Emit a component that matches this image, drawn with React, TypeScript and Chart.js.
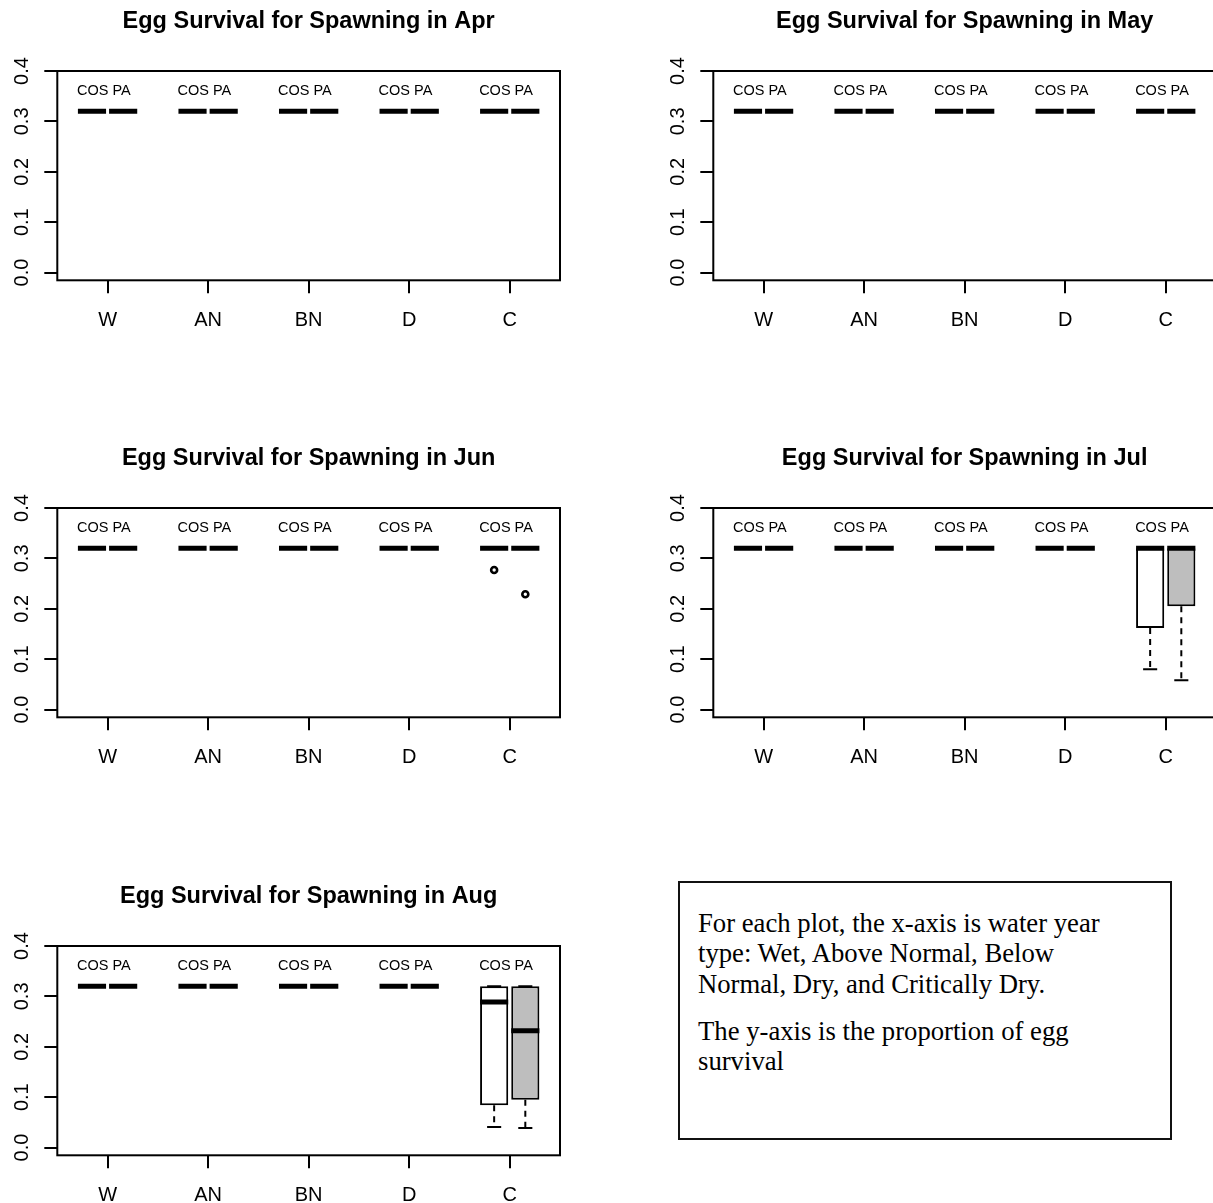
import React, { useEffect, useRef } from 'react';
import { Chart, registerables } from 'chart.js';

Chart.register(...registerables);

// ---------------- data ----------------
const CATEGORIES = ['W', 'AN', 'BN', 'D', 'C'];
const MONTHS = ['Apr', 'May', 'Jun', 'Jul', 'Aug'];
const SERIES = ['COS', 'PA'];
const Y_TICKS = [0, 0.1, 0.2, 0.3, 0.4];

// rows: months Apr..Aug, columns: categories W..C
const COS_MEDIAN = [
  [0.32, 0.32, 0.32, 0.32, 0.32],
  [0.32, 0.32, 0.32, 0.32, 0.32],
  [0.32, 0.32, 0.32, 0.32, 0.32],
  [0.32, 0.32, 0.32, 0.32, 0.32],
  [0.32, 0.32, 0.32, 0.32, 0.289],
];
const COS_Q1 = [
  [0.32, 0.32, 0.32, 0.32, 0.32],
  [0.32, 0.32, 0.32, 0.32, 0.32],
  [0.32, 0.32, 0.32, 0.32, 0.32],
  [0.32, 0.32, 0.32, 0.32, 0.162],
  [0.32, 0.32, 0.32, 0.32, 0.084],
];
const COS_Q3 = [
  [0.32, 0.32, 0.32, 0.32, 0.32],
  [0.32, 0.32, 0.32, 0.32, 0.32],
  [0.32, 0.32, 0.32, 0.32, 0.32],
  [0.32, 0.32, 0.32, 0.32, 0.32],
  [0.32, 0.32, 0.32, 0.32, 0.32],
];
const COS_LOW = [
  [0.32, 0.32, 0.32, 0.32, 0.32],
  [0.32, 0.32, 0.32, 0.32, 0.32],
  [0.32, 0.32, 0.32, 0.32, 0.32],
  [0.32, 0.32, 0.32, 0.32, 0.08],
  [0.32, 0.32, 0.32, 0.32, 0.041],
];
const COS_HIGH = [
  [0.32, 0.32, 0.32, 0.32, 0.32],
  [0.32, 0.32, 0.32, 0.32, 0.32],
  [0.32, 0.32, 0.32, 0.32, 0.32],
  [0.32, 0.32, 0.32, 0.32, 0.32],
  [0.32, 0.32, 0.32, 0.32, 0.32],
];
const COS_OUTLIER = [
  [null, null, null, null, null],
  [null, null, null, null, null],
  [null, null, null, null, 0.277],
  [null, null, null, null, null],
  [null, null, null, null, null],
];

const PA_MEDIAN = [
  [0.32, 0.32, 0.32, 0.32, 0.32],
  [0.32, 0.32, 0.32, 0.32, 0.32],
  [0.32, 0.32, 0.32, 0.32, 0.32],
  [0.32, 0.32, 0.32, 0.32, 0.32],
  [0.32, 0.32, 0.32, 0.32, 0.232],
];
const PA_Q1 = [
  [0.32, 0.32, 0.32, 0.32, 0.32],
  [0.32, 0.32, 0.32, 0.32, 0.32],
  [0.32, 0.32, 0.32, 0.32, 0.32],
  [0.32, 0.32, 0.32, 0.32, 0.205],
  [0.32, 0.32, 0.32, 0.32, 0.095],
];
const PA_Q3 = [
  [0.32, 0.32, 0.32, 0.32, 0.32],
  [0.32, 0.32, 0.32, 0.32, 0.32],
  [0.32, 0.32, 0.32, 0.32, 0.32],
  [0.32, 0.32, 0.32, 0.32, 0.32],
  [0.32, 0.32, 0.32, 0.32, 0.32],
];
const PA_LOW = [
  [0.32, 0.32, 0.32, 0.32, 0.32],
  [0.32, 0.32, 0.32, 0.32, 0.32],
  [0.32, 0.32, 0.32, 0.32, 0.32],
  [0.32, 0.32, 0.32, 0.32, 0.058],
  [0.32, 0.32, 0.32, 0.32, 0.039],
];
const PA_HIGH = [
  [0.32, 0.32, 0.32, 0.32, 0.32],
  [0.32, 0.32, 0.32, 0.32, 0.32],
  [0.32, 0.32, 0.32, 0.32, 0.32],
  [0.32, 0.32, 0.32, 0.32, 0.32],
  [0.32, 0.32, 0.32, 0.32, 0.32],
];
const PA_OUTLIER = [
  [null, null, null, null, null],
  [null, null, null, null, null],
  [null, null, null, null, 0.229],
  [null, null, null, null, null],
  [null, null, null, null, null],
];

const NOTE_PARAGRAPHS = [
  ['For each plot, the x-axis is water year', 'type: Wet, Above Normal, Below', 'Normal, Dry, and Critically Dry.'],
  ['The y-axis is the proportion of egg', 'survival'],
];

// ---------------- layout / style ----------------
const SANS = "'Liberation Sans', Arial, Helvetica, sans-serif";
const SERIF = "'Liberation Serif', 'Times New Roman', Times, serif";
const BOX_OFFSET = 0.155; // distance of each box from the group centre (x units)
const BOX_HALF = 0.14; // half box width (x units)
const LABEL_Y = 0.36;
const LABEL_X_SHIFT = -0.037;
const X_MIN = 0.5;
const X_MAX = 5.5;
const Y_MIN = -0.0153;
const Y_MAX = 0.4;
const CANVAS_W = 656;
const CANVAS_H = 328;
const PANEL_LEFT = [0, 656, 0, 656, 0];
const PANEL_TOP = [0, 0, 437, 437, 875];
const Y_AXIS_W = 57.3;
const X_AXIS_H = 47.7;
const RIGHT_PAD = 96;
const Y_LABEL_X = 28;

const halfPx = (c: any, units: number) => {
  const sx = c.chart.scales.x;
  if (!sx) return 0;
  const v = Math.abs(sx.getPixelForValue(units) - sx.getPixelForValue(0));
  return Number.isFinite(v) ? v : 0;
};

const panelDecor = {
  id: 'panelDecor',
  afterDatasetsDraw(chart: any) {
    const { ctx, chartArea: a, scales } = chart;
    const x = scales.x;
    const y = scales.y;
    ctx.save();
    ctx.fillStyle = '#000';
    ctx.font = `14.5px ${SANS}`;
    ctx.textAlign = 'center';
    ctx.textBaseline = 'middle';
    CATEGORIES.forEach((_, i) => {
      ctx.fillText(SERIES.join(' '), x.getPixelForValue(i + 1 + LABEL_X_SHIFT), y.getPixelForValue(LABEL_Y));
    });
    ctx.lineWidth = 2;
    ctx.strokeStyle = '#000';
    ctx.strokeRect(a.left, a.top, a.right - a.left, a.bottom - a.top);
    ctx.restore();
  },
  afterDraw(chart: any) {
    const { ctx, scales } = chart;
    const y = scales.y;
    ctx.save();
    ctx.fillStyle = '#000';
    ctx.font = `20px ${SANS}`;
    ctx.textAlign = 'center';
    ctx.textBaseline = 'alphabetic';
    y.ticks.forEach((t: any) => {
      ctx.save();
      ctx.translate(Y_LABEL_X, y.getPixelForValue(t.value));
      ctx.rotate(-Math.PI / 2);
      ctx.fillText(Number(t.value).toFixed(1), 0, 0);
      ctx.restore();
    });
    ctx.restore();
  },
};

function buildDatasets(m: number) {
  const series = [
    { name: SERIES[0], shift: -BOX_OFFSET, fill: '#ffffff', med: COS_MEDIAN[m], q1: COS_Q1[m], q3: COS_Q3[m], lo: COS_LOW[m], hi: COS_HIGH[m], out: COS_OUTLIER[m] },
    { name: SERIES[1], shift: BOX_OFFSET, fill: '#bebebe', med: PA_MEDIAN[m], q1: PA_Q1[m], q3: PA_Q3[m], lo: PA_LOW[m], hi: PA_HIGH[m], out: PA_OUTLIER[m] },
  ];
  const datasets: any[] = [];
  series.forEach((s) => {
    const xs = CATEGORIES.map((_, i) => i + 1 + s.shift);
    datasets.push({
      type: 'bar',
      label: `${s.name} box`,
      data: xs.map((x, i) => ({ x, y: [s.q1[i], s.q3[i]] })),
      backgroundColor: s.fill,
      borderColor: '#000',
      borderWidth: 2,
      borderSkipped: false,
      inflateAmount: 0,
      grouped: false,
      categoryPercentage: 1,
      barPercentage: BOX_HALF / BOX_OFFSET,
      order: 5,
    });
    const whiskers: any[] = [];
    xs.forEach((x, i) => {
      if (s.lo[i] < s.q1[i]) whiskers.push({ x, y: s.q1[i] }, { x, y: s.lo[i] }, { x, y: null });
      if (s.hi[i] > s.q3[i]) whiskers.push({ x, y: s.q3[i] }, { x, y: s.hi[i] }, { x, y: null });
    });
    datasets.push({
      type: 'line',
      label: `${s.name} whiskers`,
      data: whiskers,
      borderColor: '#000',
      borderWidth: 2,
      borderDash: [6, 5],
      pointRadius: 0,
      spanGaps: false,
      fill: false,
      tension: 0,
      order: 4,
    });
    datasets.push({
      type: 'scatter',
      label: `${s.name} staples`,
      data: xs.flatMap((x, i) => [{ x, y: s.lo[i] }, { x, y: s.hi[i] }]),
      pointStyle: 'line',
      pointRadius: (c: any) => halfPx(c, BOX_HALF / 2),
      borderColor: '#000',
      borderWidth: 2,
      order: 3,
    });
    datasets.push({
      type: 'scatter',
      label: `${s.name} outliers`,
      data: xs.flatMap((x, i) => (s.out[i] == null ? [] : [{ x, y: s.out[i] }])),
      pointStyle: 'circle',
      pointRadius: 3,
      borderColor: '#000',
      backgroundColor: '#ffffff',
      borderWidth: 2.6,
      order: 2,
    });
    datasets.push({
      type: 'scatter',
      label: `${s.name} median`,
      data: xs.map((x, i) => ({ x, y: s.med[i] })),
      pointStyle: 'line',
      pointRadius: (c: any) => halfPx(c, BOX_HALF),
      borderColor: '#000',
      borderWidth: 5,
      order: 1,
    });
  });
  return datasets;
}

function Panel({ m }: { m: number }) {
  const ref = useRef<HTMLCanvasElement | null>(null);
  useEffect(() => {
    if (!ref.current) return;
    const chart = new Chart(ref.current, {
      type: 'bar',
      data: { datasets: buildDatasets(m) },
      plugins: [panelDecor],
      options: {
        responsive: false,
        animation: false,
        devicePixelRatio: 1,
        events: [],
        layout: { padding: { left: 0, right: RIGHT_PAD, top: 0, bottom: 0 } },
        plugins: {
          legend: { display: false },
          tooltip: { enabled: false },
          title: {
            display: true,
            text: `Egg Survival for Spawning in ${MONTHS[m]}`,
            fullSize: false,
            align: 'center',
            color: '#000',
            font: { family: SANS, size: 23.5, weight: 'bold', lineHeight: 1.2 },
            padding: { top: 7, bottom: 35.8 },
          },
        },
        scales: {
          x: {
            type: 'linear',
            min: X_MIN,
            max: X_MAX,
            offset: false,
            afterBuildTicks: (s: any) => {
              s.ticks = CATEGORIES.map((_, i) => ({ value: i + 1 }));
            },
            afterFit: (s: any) => {
              s.height = X_AXIS_H;
            },
            grid: {
              offset: false,
              drawOnChartArea: false,
              drawTicks: true,
              tickLength: 13,
              color: '#000',
              lineWidth: 2,
            },
            border: { display: false },
            ticks: {
              autoSkip: false,
              maxRotation: 0,
              minRotation: 0,
              padding: 15,
              color: '#000',
              font: { family: SANS, size: 20 },
              callback: (v: any) => CATEGORIES[Math.round(Number(v)) - 1] ?? '',
            },
          },
          y: {
            type: 'linear',
            min: Y_MIN,
            max: Y_MAX,
            afterBuildTicks: (s: any) => {
              s.ticks = Y_TICKS.map((v) => ({ value: v }));
            },
            afterFit: (s: any) => {
              s.width = Y_AXIS_W;
            },
            grid: {
              drawOnChartArea: false,
              drawTicks: true,
              tickLength: 13,
              color: '#000',
              lineWidth: 2,
            },
            border: { display: false },
            ticks: { display: false },
          },
        },
      } as any,
    } as any);
    return () => chart.destroy();
  }, [m]);
  return (
    <canvas
      ref={ref}
      width={CANVAS_W}
      height={CANVAS_H}
      style={{ position: 'absolute', left: PANEL_LEFT[m], top: PANEL_TOP[m], width: CANVAS_W, height: CANVAS_H }}
    />
  );
}

export default function App() {
  return (
    <div
      style={{
        position: 'absolute',
        left: 0,
        top: 0,
        width: 1213,
        height: 1203,
        overflow: 'hidden',
        background: '#ffffff',
      }}
    >
      {MONTHS.map((_, m) => (
        <Panel key={m} m={m} />
      ))}
      <div
        style={{
          position: 'absolute',
          left: 678,
          top: 881,
          width: 494,
          height: 259,
          boxSizing: 'border-box',
          border: '2px solid #111',
          padding: '24.5px 18px 0 18px',
          fontFamily: SERIF,
          fontSize: 26.7,
          lineHeight: '30.7px',
          color: '#000',
        }}
      >
        {NOTE_PARAGRAPHS.map((lines, p) => (
          <p key={p} style={{ margin: p === 0 ? 0 : '16px 0 0 0', whiteSpace: 'nowrap' }}>
            {lines.map((line, k) => (
              <React.Fragment key={k}>
                {line}
                {k < lines.length - 1 ? <br /> : null}
              </React.Fragment>
            ))}
          </p>
        ))}
      </div>
    </div>
  );
}
